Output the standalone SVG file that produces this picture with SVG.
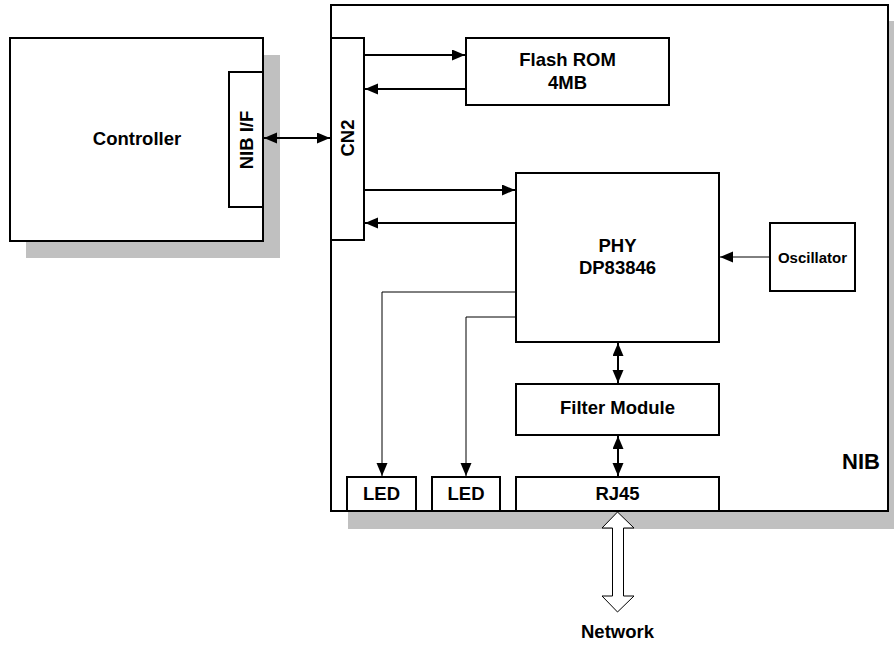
<svg xmlns="http://www.w3.org/2000/svg" width="894" height="645" viewBox="0 0 894 645">
<defs>
<style>
.box{fill:#fff;stroke:#000;stroke-width:2}
.shadow{fill:#c0c0c0;stroke:none}
.t{font-family:"Liberation Sans",Arial,sans-serif;font-weight:bold;font-size:18.5px;fill:#000;text-anchor:middle}
.w{stroke:#000;stroke-width:2;fill:none}
.th{stroke:#000;stroke-width:1;fill:none}
</style>
<marker id="ah" markerUnits="userSpaceOnUse" markerWidth="14" markerHeight="12" refX="13" refY="5.5" orient="auto-start-reverse" viewBox="0 0 14 12">
<path d="M0,0 L13,5.5 L0,11 z" fill="#000"/>
</marker>
</defs>
<rect width="894" height="645" fill="#fff"/>

<g id="controller">
<rect class="shadow" x="26" y="55" width="254" height="203"/>
<rect class="box" x="10" y="38" width="253" height="203"/>
<text class="t" x="137" y="145">Controller</text>
</g>
<g id="nib-if">
<rect class="box" x="229" y="72" width="34" height="135"/>
<text class="t" transform="translate(252.5,140) rotate(-90)">NIB I/F</text>
</g>

<g id="nib">
<rect class="shadow" x="348" y="21" width="560" height="508"/>
<rect class="box" x="331" y="5" width="557" height="506"/>
<text class="t" x="880" y="469" style="text-anchor:end;font-size:22px">NIB</text>
</g>

<g id="cn2">
<rect class="box" x="331" y="38" width="33" height="202"/>
<text class="t" transform="translate(354,138) rotate(-90)">CN2</text>
</g>

<g id="flash">
<rect class="box" x="466" y="38" width="203" height="67"/>
<text class="t" x="567.5" y="66">Flash ROM</text>
<text class="t" x="567.5" y="89">4MB</text>
</g>

<g id="phy">
<rect class="box" x="516" y="173" width="203" height="169"/>
<text class="t" x="617.5" y="252">PHY</text>
<text class="t" x="617.5" y="274">DP83846</text>
</g>

<g id="oscillator">
<rect class="box" x="770" y="223" width="85" height="68"/>
<text class="t" x="812.5" y="263" style="font-size:15px">Oscillator</text>
</g>

<g id="filter">
<rect class="box" x="516" y="384" width="203" height="51"/>
<text class="t" x="617.5" y="414">Filter Module</text>
</g>

<g id="led1">
<rect class="box" x="347" y="477" width="69" height="34"/>
<text class="t" x="381.5" y="500">LED</text>
</g>
<g id="led2">
<rect class="box" x="432" y="477" width="68" height="34"/>
<text class="t" x="466" y="500">LED</text>
</g>
<g id="rj45">
<rect class="box" x="516" y="477" width="203" height="34"/>
<text class="t" x="617.5" y="500">RJ45</text>
</g>

<g id="connectors">
<line class="w" x1="264" y1="138" x2="330" y2="138" marker-start="url(#ah)" marker-end="url(#ah)"/>
<line class="w" x1="365" y1="55" x2="465" y2="55" marker-end="url(#ah)"/>
<line class="w" x1="466" y1="89" x2="365" y2="89" marker-end="url(#ah)"/>
<line class="w" x1="365" y1="190" x2="515" y2="190" marker-end="url(#ah)"/>
<line class="w" x1="516" y1="223" x2="365" y2="223" marker-end="url(#ah)"/>
<line class="th" x1="770" y1="257" x2="720" y2="257" marker-end="url(#ah)"/>
<polyline class="th" points="516,292 382,292 382,476" marker-end="url(#ah)"/>
<polyline class="th" points="516,317 466,317 466,476" marker-end="url(#ah)"/>
<line class="w" x1="618" y1="343" x2="618" y2="383" marker-start="url(#ah)" marker-end="url(#ah)"/>
<line class="w" x1="618" y1="436" x2="618" y2="476" marker-start="url(#ah)" marker-end="url(#ah)"/>
<polygon points="617.5,512 634,528 623.5,528 623.5,596 634,596 617.5,612 602,596 612.5,596 612.5,528 602,528" fill="#fff" stroke="#000" stroke-width="1"/>
</g>
<text class="t" x="617.5" y="638">Network</text>
</svg>
